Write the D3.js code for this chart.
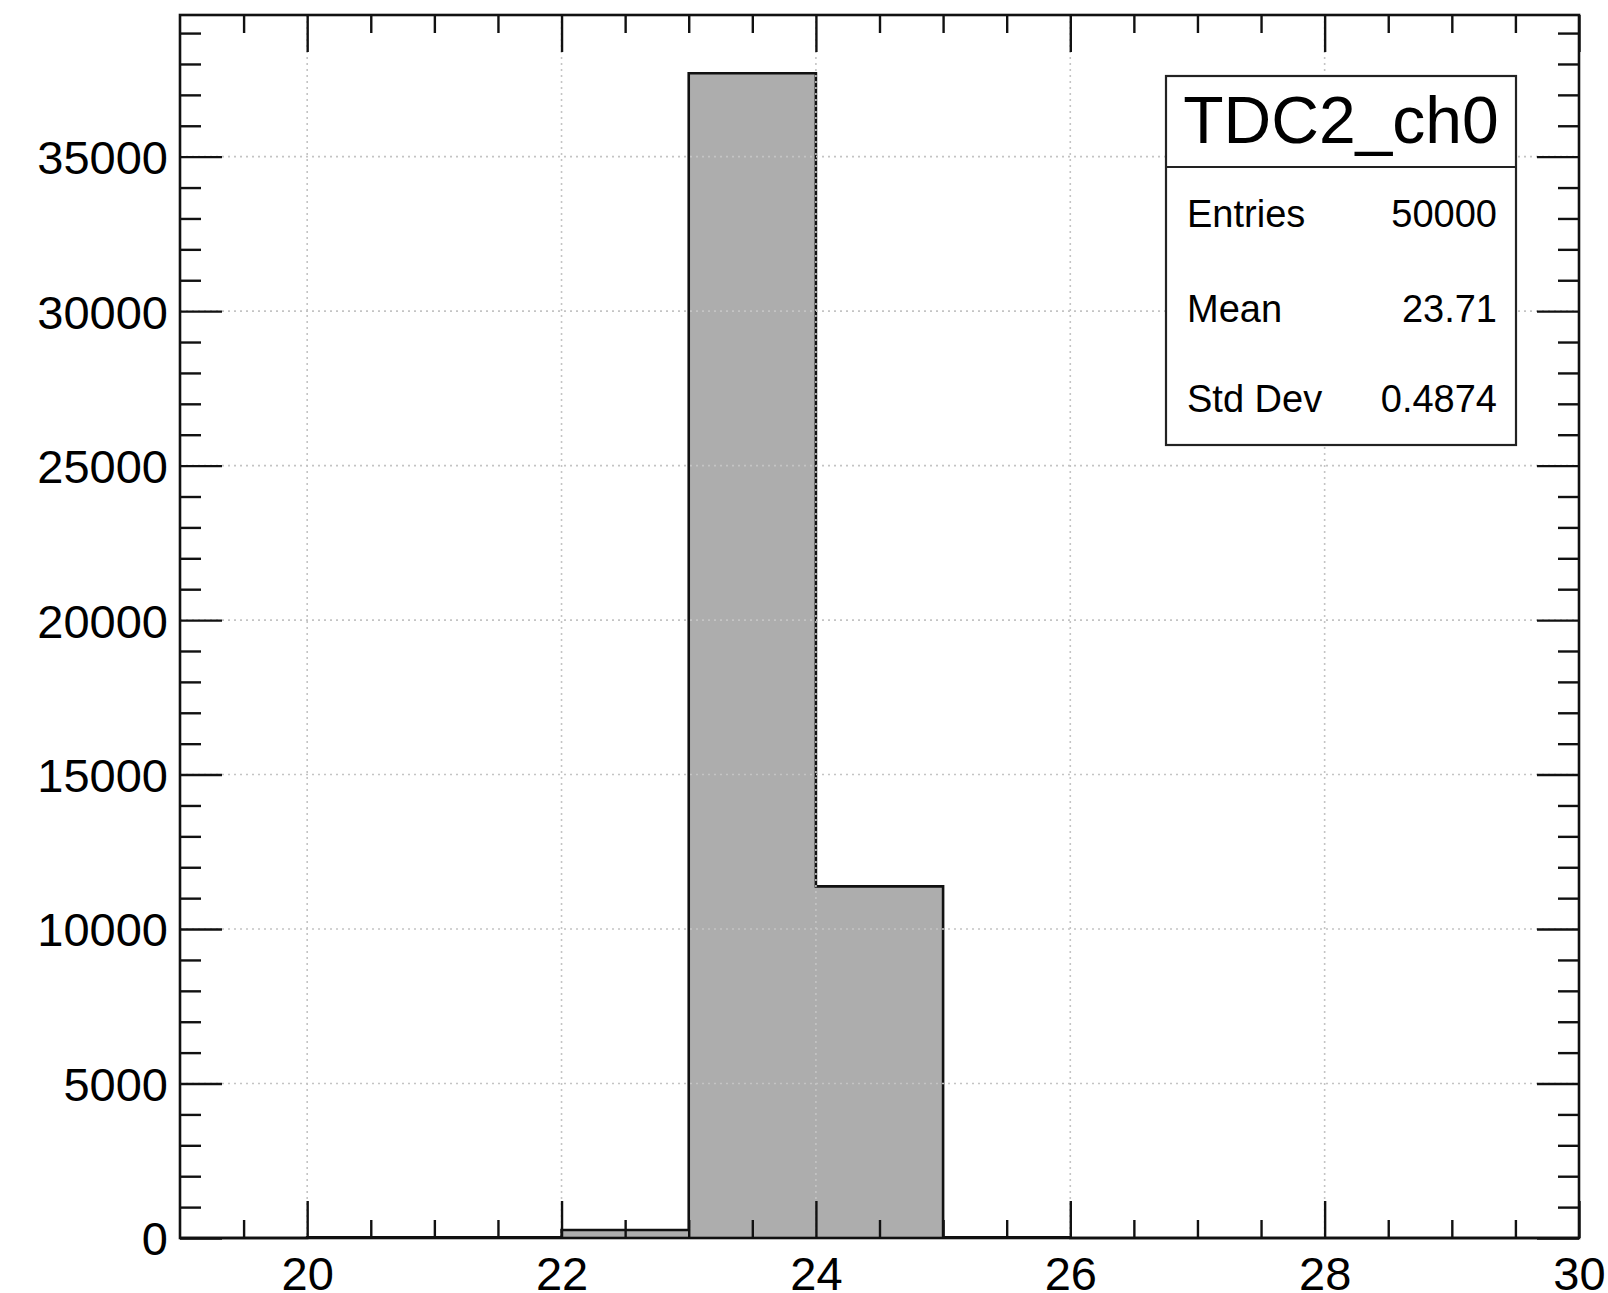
<!DOCTYPE html>
<html>
<head>
<meta charset="utf-8">
<script src="https://cdn.jsdelivr.net/npm/d3@7"></script>
<style>
  html, body { margin: 0; padding: 0; background: #fff; }
  svg { display: block; font-family: "Liberation Sans", Arial, Helvetica, sans-serif; }
</style>
</head>
<body>
<svg id="chart" width="1608" height="1293"></svg>
<script>
// Histogram TDC2_ch0: unit-width bins from 19 to 30
const binEdges = [19, 20, 21, 22, 23, 24, 25, 26, 27, 28, 29, 30];
const binCounts = [0, 20, 20, 260, 37700, 11380, 20, 0, 0, 0, 0];

const xMajorTicks = [20, 22, 24, 26, 28, 30];
const yMajorTicks = [0, 5000, 10000, 15000, 20000, 25000, 30000, 35000];

const statsTitle = "TDC2_ch0";
const statsLabels = ["Entries", "Mean", "Std Dev"];
const statsValues = ["50000", "23.71", "0.4874"];

const W = 1608, H = 1293;
const frame = { left: 180, right: 1579, top: 15, bottom: 1238 };

const svg = d3.select("#chart");

const x = d3.scaleLinear()
  .domain([binEdges[0], binEdges[binEdges.length - 1]])
  .range([frame.left, frame.right]);

const yMax = d3.max(binCounts) * 1.05;
const y = d3.scaleLinear()
  .domain([0, yMax])
  .range([frame.bottom, frame.top]);

// histogram outline as steps along the bin tops
const pts = [[x(binEdges[0]), y(0)]];
binCounts.forEach((c, i) => {
  pts.push([x(binEdges[i]), y(c)]);
  pts.push([x(binEdges[i + 1]), y(c)]);
});
pts.push([x(binEdges[binEdges.length - 1]), y(0)]);

const line = d3.line();
svg.append("path")
  .attr("d", line(pts) + "Z")
  .attr("fill", "#adadad")
  .attr("stroke", "none");
svg.append("path")
  .attr("d", line(pts))
  .attr("fill", "none")
  .attr("stroke", "#111")
  .attr("stroke-width", 2.6)
  .attr("stroke-linejoin", "miter");

// dotted grid at the major ticks
const grid = svg.append("g")
  .attr("stroke", "#c4c4c4")
  .attr("stroke-width", 1.6)
  .attr("stroke-dasharray", "2,4");
grid.selectAll("line.gx")
  .data(xMajorTicks.filter(v => v > x.domain()[0] && v < x.domain()[1]))
  .join("line")
  .attr("x1", d => x(d)).attr("x2", d => x(d))
  .attr("y1", frame.top).attr("y2", frame.bottom);
grid.selectAll("line.gy")
  .data(yMajorTicks.filter(v => v > 0))
  .join("line")
  .attr("class", "gy")
  .attr("x1", frame.left).attr("x2", frame.right)
  .attr("y1", d => y(d)).attr("y2", d => y(d));

// axes with inward ticks
const xMinor = d3.range(19.5, 30, 0.5).filter(v => !xMajorTicks.includes(v));
const yMinor = d3.range(1000, yMax, 1000).filter(v => v % 5000 !== 0);

function styleAxis(g) {
  g.select(".domain").remove();
  g.selectAll(".tick line").attr("stroke", "#111").attr("stroke-width", 2.4);
  g.selectAll(".tick text")
    .attr("fill", "#000")
    .attr("font-size", 47)
    .attr("font-family", "\"Liberation Sans\", Arial, Helvetica, sans-serif");
}

// bottom
svg.append("g")
  .attr("transform", `translate(0,${frame.bottom})`)
  .call(d3.axisBottom(x).tickValues(xMajorTicks).tickSize(-37).tickPadding(19).tickFormat(d3.format("d")))
  .call(styleAxis);
svg.append("g")
  .attr("transform", `translate(0,${frame.bottom})`)
  .call(d3.axisBottom(x).tickValues(xMinor).tickSize(-18).tickFormat(""))
  .call(styleAxis);
// top
svg.append("g")
  .attr("transform", `translate(0,${frame.top})`)
  .call(d3.axisTop(x).tickValues(xMajorTicks).tickSize(-37).tickFormat(""))
  .call(styleAxis);
svg.append("g")
  .attr("transform", `translate(0,${frame.top})`)
  .call(d3.axisTop(x).tickValues(xMinor).tickSize(-18).tickFormat(""))
  .call(styleAxis);
// left
svg.append("g")
  .attr("transform", `translate(${frame.left},0)`)
  .call(d3.axisLeft(y).tickValues(yMajorTicks).tickSize(-42).tickPadding(12).tickFormat(d3.format("d")))
  .call(styleAxis)
  .call(g => g.selectAll(".tick text").attr("dy", "0.36em"));
svg.append("g")
  .attr("transform", `translate(${frame.left},0)`)
  .call(d3.axisLeft(y).tickValues(yMinor).tickSize(-21).tickFormat(""))
  .call(styleAxis);
// right
svg.append("g")
  .attr("transform", `translate(${frame.right},0)`)
  .call(d3.axisRight(y).tickValues(yMajorTicks).tickSize(-42).tickFormat(""))
  .call(styleAxis);
svg.append("g")
  .attr("transform", `translate(${frame.right},0)`)
  .call(d3.axisRight(y).tickValues(yMinor).tickSize(-21).tickFormat(""))
  .call(styleAxis);

// frame
svg.append("rect")
  .attr("x", frame.left).attr("y", frame.top)
  .attr("width", frame.right - frame.left)
  .attr("height", frame.bottom - frame.top)
  .attr("fill", "none")
  .attr("stroke", "#111")
  .attr("stroke-width", 2.6);

// statistics box
const box = { x0: 1166, x1: 1516, y0: 76, y1: 445, split: 167 };
const sb = svg.append("g");
sb.append("rect")
  .attr("x", box.x0).attr("y", box.y0)
  .attr("width", box.x1 - box.x0).attr("height", box.y1 - box.y0)
  .attr("fill", "#fff").attr("stroke", "#222").attr("stroke-width", 2.2);
sb.append("line")
  .attr("x1", box.x0).attr("x2", box.x1)
  .attr("y1", box.split).attr("y2", box.split)
  .attr("stroke", "#222").attr("stroke-width", 2.2);
sb.append("text")
  .attr("x", (box.x0 + box.x1) / 2).attr("y", 143)
  .attr("text-anchor", "middle")
  .attr("font-size", 66)
  .text(statsTitle);
const rowBase = [227, 322, 412];
statsLabels.forEach((lab, i) => {
  sb.append("text")
    .attr("x", 1187).attr("y", rowBase[i])
    .attr("font-size", 38)
    .text(lab);
  sb.append("text")
    .attr("x", 1497).attr("y", rowBase[i])
    .attr("text-anchor", "end")
    .attr("font-size", 38)
    .text(statsValues[i]);
});
</script>
</body>
</html>
